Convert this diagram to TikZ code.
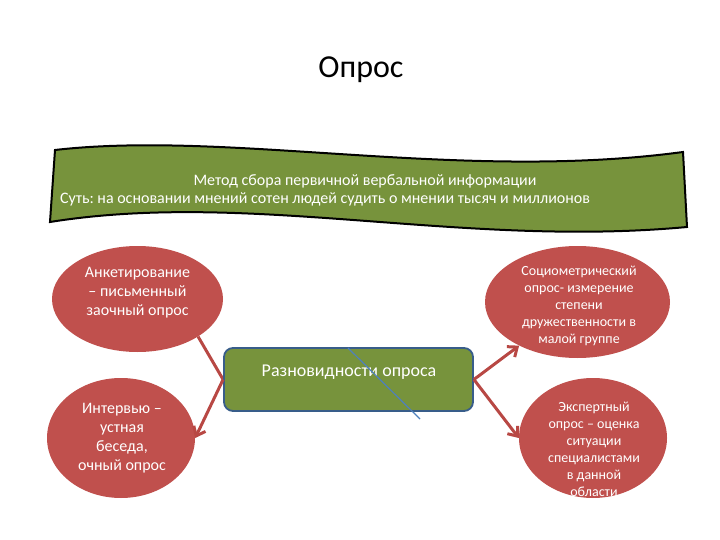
\documentclass[tikz,border=0pt]{standalone}
\usepackage{fontspec}
\setmainfont{Carlito}
\frenchspacing
\usetikzlibrary{arrows.meta,shapes.geometric,backgrounds}

\definecolor{bannergreen}{RGB}{119,147,60}
\definecolor{ovalred}{RGB}{192,80,77}
\definecolor{arrowred}{RGB}{184,72,68}
\definecolor{boxline}{RGB}{56,93,138}
\definecolor{pen}{RGB}{79,129,189}

\begin{document}
\begin{tikzpicture}[x=1pt,y=-1pt,
  oval/.style={ellipse,fill=ovalred,inner sep=0pt},
  bigtext/.style={text=white,align=center,font=\fontsize{16}{19}\selectfont},
  smalltext/.style={text=white,align=center,font=\fontsize{14}{17}\selectfont},
  link/.style={draw=arrowred,line width=3pt,-{Straight Barb[length=8pt,width=13pt]}}]

\useasboundingbox (0,0) rectangle (720,540);

\node (title) at (361,70) {\fontsize{32}{38}\selectfont Опрос};

% banner
\filldraw[fill=bannergreen,draw=black,line width=2pt]
  (55,150) .. controls (230,130) and (460,182) .. (683,152)
  -- (687,227) .. controls (460,248) and (250,190) .. (50,222) -- cycle;
\node[text=white,font=\fontsize{16}{19}\selectfont] (method) at (365,181)
  {Метод сбора первичной вербальной информации};
\node[text=white,font=\fontsize{16}{19}\selectfont] (essence) at (325,199)
  {Суть: на основании мнений сотен людей судить о мнении тысяч и миллионов};

% ovals
\node[oval,minimum width=171pt,minimum height=106pt] (anket) at (137.5,299) {};
\node[oval,minimum width=185pt,minimum height=112pt] (socio) at (577.5,302) {};
\node[oval,minimum width=148pt,minimum height=120pt] (intv) at (121,438) {};
\node[oval,minimum width=148pt,minimum height=120pt] (expert) at (593,438) {};

\node[bigtext] (ankettext) at (137.5,292.5) {Анкетирование\\– письменный\\заочный опрос};
\node[smalltext] (sociotext) at (579,306) {Социометрический\\опрос- измерение\\степени\\дружественности в\\малой группе};
\node[bigtext] (intvtext) at (122,438.5) {Интервью –\\устная\\беседа,\\очный опрос};
\node[smalltext] (experttext) at (594,449.5) {Экспертный\\опрос – оценка\\ситуации\\специалистами\\в данной\\области};

% middle box
\node[rounded corners=9pt,fill=bannergreen,draw=boxline,line width=1.8pt,
  minimum width=249pt,minimum height=63pt] (box) at (348.5,379.5) {};
\node[text=white,font=\fontsize{18}{21}\selectfont] (boxtext) at (349,372) {Разновидности опроса};

\begin{scope}[on background layer]
\draw[link,-] (box.west) -- (anket.south east);
\end{scope}
\draw[link] (box.west) -- (intv.east);
\draw[link] (box.east) -- (socio);
\draw[link] (box.east) -- (expert.west);

\coordinate (penstart) at (348,348);
\coordinate (penend) at (420,419);
\draw[pen,line width=1.2pt] (penstart) -- (penend);
\end{tikzpicture}
\end{document}
